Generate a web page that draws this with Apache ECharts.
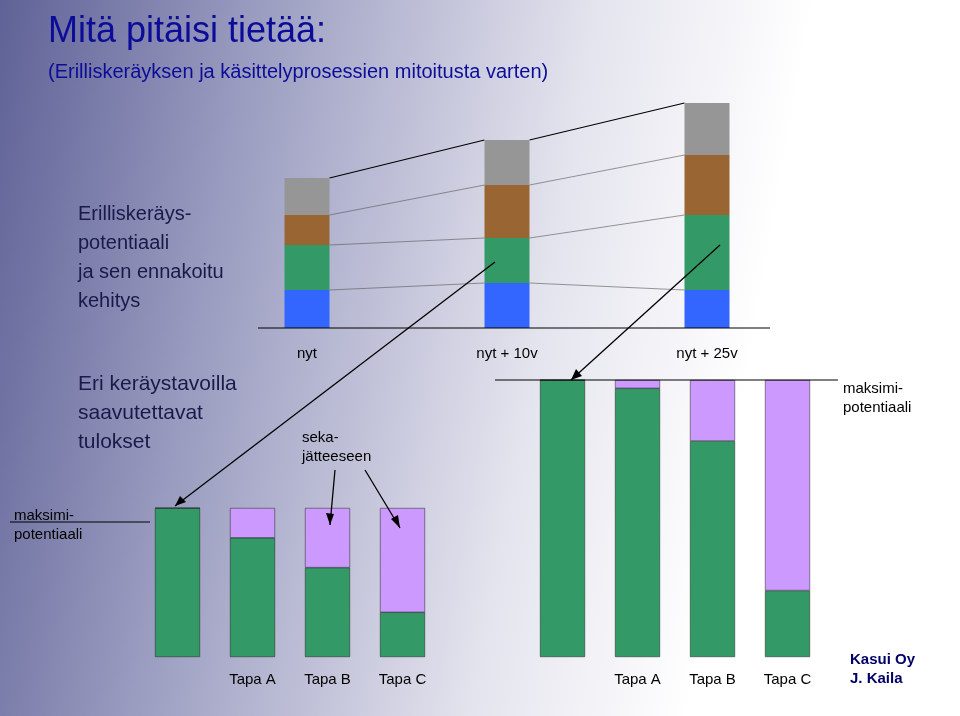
<!DOCTYPE html>
<html><head><meta charset="utf-8">
<script src="https://cdn.jsdelivr.net/npm/echarts@6/dist/echarts.min.js"></script>
<style>
html,body{margin:0;padding:0}
#c{width:960px;height:716px;background:linear-gradient(100deg,#5f6296 0%,#9d9fc2 25%,#e4e4ee 55%,#ffffff 75%)}
</style></head><body>
<div id="c"></div>
<script>
// top: potential development (stack bottom -> top)
var topCats = ['nyt', 'nyt + 10v', 'nyt + 25v'];
var topBlue = [38, 45, 38];
var topGreen = [45, 45, 75];
var topBrown = [30, 53, 60];
var topGray = [37, 45, 52];

// bottom: results by collection method (share of max, %)
var leftCats = ['', 'Tapa A', 'Tapa B', 'Tapa C'];
var leftGreen = [100, 80, 60, 30];
var rightCats = ['', 'Tapa A', 'Tapa B', 'Tapa C'];
var rightGreen = [100, 97, 78, 24];

var chart = echarts.init(document.getElementById('c'));
var F = '"Liberation Sans", Arial, sans-serif';
var bw = 45;

function rest(a) { return a.map(function (v) { return 100 - v; }); }

// connector lines between neighbouring stacked bars
var levels = [topBlue, topGreen, topBrown, topGray];
var cum = [0, 1, 2].map(function (i) {
  var s = 0, out = [];
  levels.forEach(function (l) { s += l[i]; out.push(s); });
  return out;
});
var connectData = [[0], [1]];

var bottomLabel = { fontFamily: F, fontSize: 15, color: '#000', margin: 15 };

chart.setOption({
  animation: false,
  grid: [
    { left: 207, width: 600, top: 103, height: 225 },
    { left: 140, width: 300, top: 508, height: 149 },
    { left: 525, width: 300, top: 380, height: 277 }
  ],
  xAxis: [
    { gridIndex: 0, type: 'category', data: topCats, axisLine: { show: false }, axisTick: { show: false },
      axisLabel: { fontFamily: F, fontSize: 15, color: '#000', margin: 18 } },
    { gridIndex: 1, type: 'category', data: leftCats, axisLine: { show: false }, axisTick: { show: false }, axisLabel: bottomLabel },
    { gridIndex: 2, type: 'category', data: rightCats, axisLine: { show: false }, axisTick: { show: false }, axisLabel: bottomLabel }
  ],
  yAxis: [
    { gridIndex: 0, type: 'value', min: 0, max: 225, show: false },
    { gridIndex: 1, type: 'value', min: 0, max: 100, show: false },
    { gridIndex: 2, type: 'value', min: 0, max: 100, show: false }
  ],
  series: [
    { type: 'bar', stack: 't', data: topBlue, barWidth: bw, itemStyle: { color: '#3366ff' } },
    { type: 'bar', stack: 't', data: topGreen, barWidth: bw, itemStyle: { color: '#339966' } },
    { type: 'bar', stack: 't', data: topBrown, barWidth: bw, itemStyle: { color: '#996633' } },
    { type: 'bar', stack: 't', data: topGray, barWidth: bw, itemStyle: { color: '#969696' } },
    { type: 'custom', data: connectData, z: 1,
      renderItem: function (params, api) {
        var i = api.value(0), kids = [];
        cum[i].forEach(function (v, k) {
          var a = api.coord([i, v]), b = api.coord([i + 1, cum[i + 1][k]]);
          kids.push({ type: 'line', shape: { x1: a[0] + bw / 2, y1: a[1], x2: b[0] - bw / 2, y2: b[1] },
            style: { stroke: k === 3 ? '#000' : '#555', lineWidth: k === 3 ? 1.2 : 0.6 } });
        });
        return { type: 'group', children: kids };
      } },
    { type: 'bar', xAxisIndex: 1, yAxisIndex: 1, stack: 'l', data: leftGreen, barWidth: bw, itemStyle: { color: '#339966', borderColor: '#222', borderWidth: 0.5 } },
    { type: 'bar', xAxisIndex: 1, yAxisIndex: 1, stack: 'l', data: rest(leftGreen), barWidth: bw, itemStyle: { color: '#cc99ff', borderColor: '#222', borderWidth: 0.5 } },
    { type: 'bar', xAxisIndex: 2, yAxisIndex: 2, stack: 'r', data: rightGreen, barWidth: bw, itemStyle: { color: '#339966', borderColor: '#222', borderWidth: 0.5 } },
    { type: 'bar', xAxisIndex: 2, yAxisIndex: 2, stack: 'r', data: rest(rightGreen), barWidth: bw, itemStyle: { color: '#cc99ff', borderColor: '#222', borderWidth: 0.5 } }
  ],
  graphic: [
    { type: 'text', left: 48, top: 14, z: 100, style: { text: 'Mitä pitäisi tietää:', font: '36px ' + F, fill: '#0c0c99' } },
    { type: 'text', left: 48, top: 62, z: 100, style: { text: '(Erilliskeräyksen ja käsittelyprosessien mitoitusta varten)', font: '20px ' + F, fill: '#0c0c99' } },
    { type: 'text', left: 78, top: 200, z: 100, style: { text: 'Erilliskeräys-\npotentiaali\nja sen ennakoitu\nkehitys', font: '20px ' + F, fill: '#1a1a4a', lineHeight: 29 } },
    { type: 'text', left: 78, top: 370, z: 100, style: { text: 'Eri keräystavoilla\nsaavutettavat\ntulokset', font: '21px ' + F, fill: '#1a1a4a', lineHeight: 29 } },
    { type: 'text', left: 302, top: 428, z: 100, style: { text: 'seka-\njätteeseen', font: '15px ' + F, fill: '#000', lineHeight: 19 } },
    { type: 'text', left: 14, top: 506, z: 100, style: { text: 'maksimi-\npotentiaali', font: '15px ' + F, fill: '#000', lineHeight: 19 } },
    { type: 'text', left: 843, top: 379, z: 100, style: { text: 'maksimi-\npotentiaali', font: '15px ' + F, fill: '#000', lineHeight: 19 } },
    { type: 'text', left: 850, top: 650, z: 100, style: { text: 'Kasui Oy\nJ. Kaila', font: 'bold 15px ' + F, fill: '#000066', lineHeight: 19 } },
    { type: 'line', z: 100, shape: { x1: 258, y1: 328, x2: 770, y2: 328 }, style: { stroke: '#000', lineWidth: 1 } },
    { type: 'line', z: 100, shape: { x1: 10, y1: 522, x2: 150, y2: 522 }, style: { stroke: '#000', lineWidth: 1 } },
    { type: 'line', z: 100, shape: { x1: 495, y1: 380, x2: 838, y2: 380 }, style: { stroke: '#000', lineWidth: 1 } },
    { type: 'line', z: 100, shape: { x1: 495, y1: 262, x2: 175, y2: 506 }, style: { stroke: '#000', lineWidth: 1.3 } },
    { type: 'polygon', z: 100, shape: { points: [[175, 506], [180, 496], [186, 502]] }, style: { fill: '#000' } },
    { type: 'line', z: 100, shape: { x1: 720, y1: 245, x2: 571, y2: 380 }, style: { stroke: '#000', lineWidth: 1.3 } },
    { type: 'polygon', z: 100, shape: { points: [[571, 380], [576, 369], [582, 376]] }, style: { fill: '#000' } },
    { type: 'line', z: 100, shape: { x1: 335, y1: 470, x2: 330, y2: 525 }, style: { stroke: '#000', lineWidth: 1.3 } },
    { type: 'polygon', z: 100, shape: { points: [[330, 525], [326, 513], [334, 514]] }, style: { fill: '#000' } },
    { type: 'line', z: 100, shape: { x1: 365, y1: 470, x2: 400, y2: 528 }, style: { stroke: '#000', lineWidth: 1.3 } },
    { type: 'polygon', z: 100, shape: { points: [[400, 528], [391, 519], [398, 515]] }, style: { fill: '#000' } }
  ]
});
</script>
</body></html>
